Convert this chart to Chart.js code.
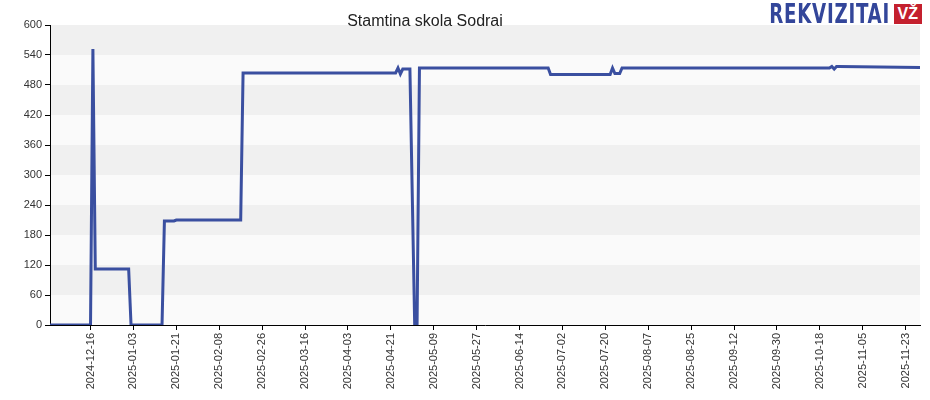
<!DOCTYPE html>
<html>
<head>
<meta charset="utf-8">
<script src="https://cdn.jsdelivr.net/npm/chart.js@4/dist/chart.umd.min.js"></script>
<style>
body { margin: 0; background: #fff; font-family: Arial, "Liberation Sans", sans-serif; }
#wrap { position: relative; width: 930px; height: 400px; }
#title { position: absolute; left: 0; width: 850px; top: 12px; text-align: center; font-size: 16px; color: #222; }
#logo { position: absolute; right: 8px; top: -2px; display: flex; align-items: center; }
#logo .t { font-family: "DejaVu Sans Condensed", "Liberation Sans Narrow", sans-serif; font-weight: bold; font-size: 27px; color: #33469a; letter-spacing: 1px; transform: scaleX(0.75); transform-origin: right; }
#logo .b { background: #c4202e; color: #fff; font-weight: bold; font-size: 16px; padding: 1px 4px; margin-left: 4px; }
</style>
</head>
<body>
<div id="wrap">
<canvas id="c" width="930" height="400"></canvas>
<div id="title">Stamtina skola Sodrai</div>
<div id="logo"><span class="t">REKVIZITAI</span><span class="b">VŽ</span></div>
</div>
<script>
// day index 0 = 2024-12-16
var dayIdx = [-17, 0, 1, 2, 16, 17, 30, 31, 35, 36, 63, 64, 128, 129, 130, 131, 132, 134, 136, 137, 138, 192, 193, 218, 219, 220, 222, 223, 224, 310, 311, 312, 313, 314, 348];
var values = [0, 0, 552, 112, 112, 0, 0, 208, 208, 210, 210, 504, 504, 514, 502, 512, 512, 512, 0, 0, 514, 514, 501, 501, 514, 503, 503, 514, 514, 514, 517, 512, 517, 517, 515];
var tickIdx = [0, 18, 36, 54, 72, 90, 108, 126, 144, 162, 180, 198, 216, 234, 252, 270, 288, 306, 324, 342];
var tickLabels = ['2024-12-16', '2025-01-03', '2025-01-21', '2025-02-08', '2025-02-26', '2025-03-16', '2025-04-03', '2025-04-21', '2025-05-09', '2025-05-27', '2025-06-14', '2025-07-02', '2025-07-20', '2025-08-07', '2025-08-25', '2025-09-12', '2025-09-30', '2025-10-18', '2025-11-05', '2025-11-23'];

var points = [];
for (var i in dayIdx) {
    points.push({x: dayIdx[i], y: values[i]});
}

var bands = {
    id: 'bands',
    beforeDraw: function(chart) {
        var ctx = chart.ctx, a = chart.chartArea, y = chart.scales.y;
        for (var v = 0; v < 600; v += 60) {
            ctx.fillStyle = (v / 60) % 2 ? '#f0f0f0' : '#fafafa';
            var top = y.getPixelForValue(v + 60), bot = y.getPixelForValue(v);
            ctx.fillRect(a.left, top, a.right - a.left, bot - top);
        }
    }
};

new Chart(document.getElementById('c'), {
    type: 'line',
    data: {
        datasets: [{
            data: points,
            borderColor: '#3a4fa0',
            borderWidth: 3,
            pointRadius: 0,
            tension: 0
        }]
    },
    options: {
        responsive: false,
        animation: false,
        layout: { padding: { top: 25, right: 10, left: 0, bottom: 0 } },
        plugins: { legend: { display: false }, tooltip: { enabled: false } },
        scales: {
            x: {
                type: 'linear',
                min: -17,
                max: 348,
                afterBuildTicks: function(s) { s.ticks = tickIdx.map(function(v) { return {value: v}; }); },
                afterFit: function(s) { s.height = 75; },
                grid: { display: true, drawOnChartArea: false, tickLength: 5, color: '#000' },
                border: { color: '#000' },
                ticks: {
                    maxRotation: 90, minRotation: 90, color: '#333', font: { size: 11 },
                    callback: function(v) { var k = tickIdx.indexOf(v); return k >= 0 ? tickLabels[k] : ''; }
                }
            },
            y: {
                min: 0,
                max: 600,
                afterFit: function(s) { s.width = 50; },
                grid: { display: true, drawOnChartArea: false, tickLength: 5, color: '#000' },
                border: { color: '#000' },
                ticks: { stepSize: 60, color: '#333', font: { size: 11 } }
            }
        }
    },
    plugins: [bands]
});
</script>
</body>
</html>
